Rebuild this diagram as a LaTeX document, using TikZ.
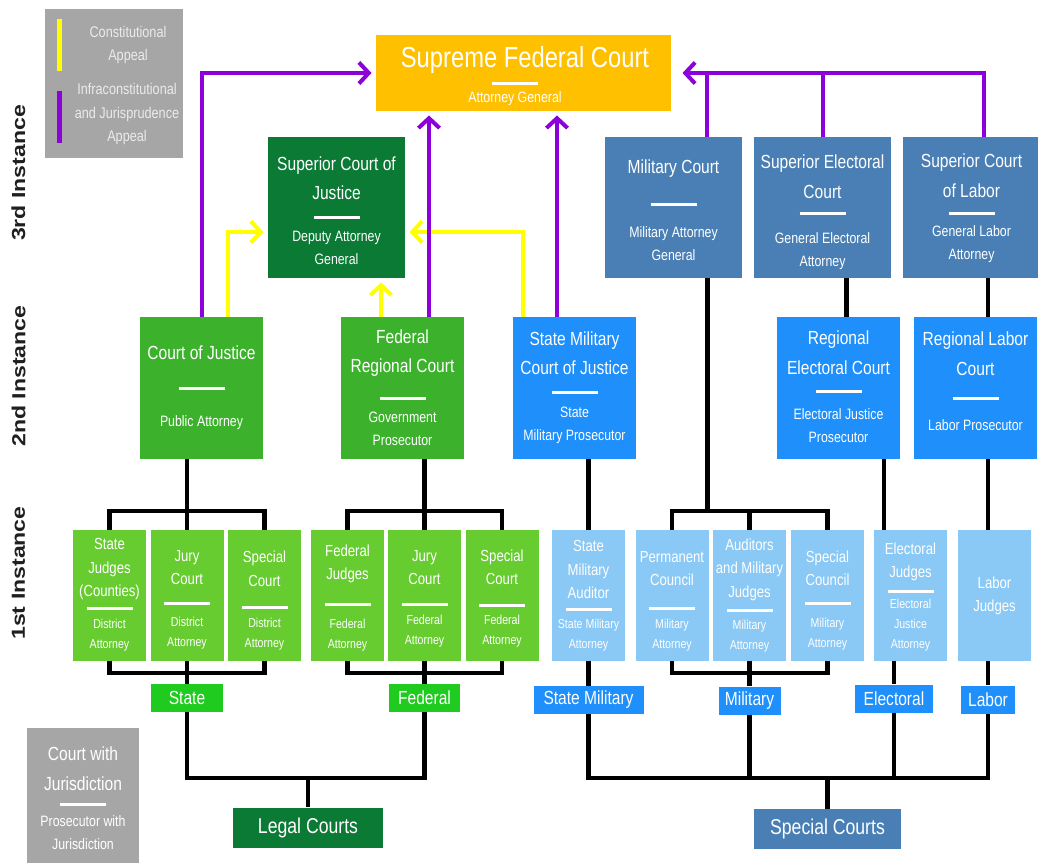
\documentclass[tikz,border=0pt]{standalone}
\usepackage{fontspec}
\usepackage{graphicx}
\setmainfont{Liberation Sans}[FakeStretch=0.82]
\newfontfamily\instfont{Liberation Sans}
\usetikzlibrary{arrows.meta, calc}

\definecolor{supyellow}{HTML}{FFC000}
\definecolor{dgreen}{HTML}{0B7A35}
\definecolor{mgreen}{HTML}{3CB22C}
\definecolor{lgreen}{HTML}{67CC30}
\definecolor{tgreen}{HTML}{1ECB1E}
\definecolor{steel}{HTML}{4A7FB5}
\definecolor{dblue}{HTML}{1E8FFB}
\definecolor{lblue}{HTML}{8AC8F5}
\definecolor{keygray}{HTML}{A6A6A6}
\definecolor{appealviolet}{HTML}{8C00D9}
\definecolor{appealyellow}{HTML}{FFFF00}

\newlength{\unitpx}
\setlength{\unitpx}{0.025cm}

\tikzset{
  court/.style={fill=#1, inner sep=0pt, minimum width=137\unitpx, minimum height=141\unitpx},
  region/.style={fill=#1, inner sep=0pt, minimum width=123\unitpx, minimum height=142\unitpx},
  local/.style={fill=#1, inner sep=0pt, minimum width=73\unitpx, minimum height=131\unitpx},
  tag/.style={fill=#1, text=white, inner sep=0pt, minimum height=28\unitpx, font=\fontsize{13.5}{16}\selectfont},
  branch/.style={fill=#1, text=white, inner sep=0pt, minimum width=150\unitpx, minimum height=40\unitpx, font=\fontsize{15.3}{18}\selectfont},
  ttl/.style={text=white, align=center, inner sep=0pt, font=\fontsize{13.5}{21}\selectfont},
  sub/.style={text=white, align=center, inner sep=0pt, font=\fontsize{10.7}{16.4}\selectfont},
  lttl/.style={text=white, align=center, inner sep=0pt, font=\fontsize{11.4}{16.7}\selectfont},
  lsub/.style={text=white, align=center, inner sep=0pt, font=\fontsize{9.2}{14.2}\selectfont},
  keytxt/.style={text=white!92!black, align=center, inner sep=0pt, font=\fontsize{11}{16.6}\selectfont},
  instlabel/.style={rotate=90, text=black!88, inner sep=0pt, font=\instfont\bfseries\fontsize{16.4}{18}\selectfont},
  sepline/.style={white, line width=3\unitpx},
  conn/.style={black, line width=4.5\unitpx},
  purpline/.style={appealviolet, line width=4\unitpx},
  purp/.style={purpline, -{Straight Barb[length=7pt,width=15pt]}, shorten >=3pt},
  yel/.style={appealyellow, line width=4\unitpx, -{Straight Barb[length=7pt,width=15pt]}, shorten >=3pt}
}

\begin{document}
\begin{tikzpicture}[x=0.025cm, y=-0.025cm]
    \useasboundingbox (0,0) rectangle (1038,862);
    \fill[white] (0,0) rectangle (1038,862);

    % Instance labels
    \node[instlabel] (inst3) at (18.5,173) {\scalebox{1}[0.82]{3rd Instance}};
    \node[instlabel] (inst2) at (18.5,376) {\scalebox{1}[0.82]{2nd Instance}};
    \node[instlabel] (inst1) at (18.5,573) {\scalebox{1}[0.82]{1st Instance}};

    % Appeal key
    \node[fill=keygray, inner sep=0pt, minimum width=138\unitpx, minimum height=149\unitpx] (appkey) at (114,83.5) {};
    \fill[appealyellow] (57,19) rectangle (62,71);
    \fill[appealviolet] (57,91) rectangle (62,143);
    \node[keytxt] (appkey-c) at (128,45) {Constitutional\\Appeal};
    \node[keytxt] (appkey-i) at (127,114) {Infraconstitutional\\and Jurisprudence\\Appeal};

    % Supreme court
    \node[fill=supyellow, inner sep=0pt, minimum width=295\unitpx, minimum height=76\unitpx] (sfc) at (523.5,73) {};
    \node[text=white, inner sep=0pt, font=\fontsize{20.6}{24}\selectfont] (sfc-head) at (525,60) {Supreme Federal Court};
    \draw[sepline] (492,83) -- (538,83);
    \node[sub] (sfc-foot) at (515,98.5) {Attorney General};

    % 3rd instance
    \foreach \nm/\xx/\col/\head/\hy/\ly/\foot/\fy in {
      scj/336.5/dgreen/{Superior Court of\\Justice}/178/217/{Deputy Attorney\\General}/248,
      mc/673.5/steel/{Military Court}/169/204/{Military Attorney\\General}/244,
      sec/822.5/steel/{Superior Electoral\\Court}/176.5/213/{General Electoral\\Attorney}/251.5,
      scl/971.5/steel/{Superior Court\\of Labor}/175.5/213/{General Labor\\Attorney}/244}
    {
      \node[court=\col] (\nm) at (\xx,207.5) {};
      \node[ttl] (\nm-head) at (\xx,\hy) {\head};
      \draw[sepline] (\xx-23,\ly) -- (\xx+23,\ly);
      \node[sub] (\nm-foot) at (\xx,\fy) {\foot};
    }

    % 2nd instance
    \foreach \nm/\xx/\col/\head/\hy/\ly/\foot/\fy in {
      cj/201.5/mgreen/{Court of Justice}/353/388/{Public Attorney}/423,
      frc/402.5/mgreen/{Federal\\Regional Court}/353/398/{Government\\Prosecutor}/428.5,
      smc/574.5/dblue/{State Military\\Court of Justice}/353/392/{State\\Military Prosecutor}/425.5,
      rec/838.5/dblue/{Regional\\Electoral Court}/352.5/391/{Electoral Justice\\Prosecutor}/425.5,
      rlc/975.5/dblue/{Regional Labor\\Court}/353.5/398/{Labor Prosecutor}/425}
    {
      \node[region=\col] (\nm) at (\xx,388) {};
      \node[ttl] (\nm-head) at (\xx,\hy) {\head};
      \draw[sepline] (\xx-23,\ly) -- (\xx+23,\ly);
      \node[sub] (\nm-foot) at (\xx,\fy) {\foot};
    }

    % 1st instance
    \foreach \nm/\xx/\col/\head/\hy/\ly/\foot/\fy in {
      sj/109.5/lgreen/{State\\Judges\\(Counties)}/569.5/608/{District\\Attorney}/635,
      jcs/187/lgreen/{Jury\\Court}/567.5/603/{District\\Attorney}/633,
      scs/264.5/lgreen/{Special\\Court}/569/607/{District\\Attorney}/634,
      fj/347.5/lgreen/{Federal\\Judges}/564/604/{Federal\\Attorney}/635,
      jcf/424.5/lgreen/{Jury\\Court}/567.5/604/{Federal\\Attorney}/631.5,
      scf/502/lgreen/{Special\\Court}/567.5/605/{Federal\\Attorney}/631,
      sma/588.5/lblue/{State\\Military\\Auditor}/569.5/609/{State Military\\Attorney}/635,
      pc/672/lblue/{Permanent\\Council}/568.5/608/{Military\\Attorney}/635,
      amj/749.5/lblue/{Auditors\\and Military\\Judges}/569.5/610/{Military\\Attorney}/636,
      spc/827.5/lblue/{Special\\Council}/568.5/603/{Military\\Attorney}/634,
      ej/910.5/lblue/{Electoral\\Judges}/562/591/{Electoral\\Justice\\Attorney}/625}
    {
      \node[local=\col] (\nm) at (\xx,595.5) {};
      \node[lttl] (\nm-head) at (\xx,\hy) {\head};
      \draw[sepline] (\xx-23,\ly) -- (\xx+23,\ly);
      \node[lsub] (\nm-foot) at (\xx,\fy) {\foot};
    }
    \node[local=lblue] (lj) at (994.5,595.5) {};
    \node[lttl] (lj-head) at (994.5,596) {Labor\\Judges};

    % Jurisdiction tags
    \node[tag=tgreen, minimum width=72\unitpx] (stlab) at (jcs |- 0,698) {State};
    \node[tag=tgreen, minimum width=71\unitpx] (fdlab) at (jcf |- 0,698) {Federal};
    \node[tag=dblue, minimum width=110\unitpx] (smlab) at (sma |- 0,700) {State Military};
    \node[tag=dblue, minimum width=62\unitpx] (mlab) at (amj |- 0,700.5) {Military};
    \node[tag=dblue, minimum width=78\unitpx] (elab) at (894,698.5) {Electoral};
    \node[tag=dblue, minimum width=54\unitpx] (llab) at (988,699.5) {Labor};

    % Court groups
    \node[branch=dgreen] (lc) at (308,827.5) {Legal Courts};
    \node[branch=steel, minimum width=147\unitpx] (spcourts) at (827.5,829) {Special Courts};

    % Court key
    \node[fill=keygray, inner sep=0pt, minimum width=112\unitpx, minimum height=140\unitpx] (ctkey) at (83,798) {};
    \node[ttl] (ctkey-head) at (83,768.5) {Court with\\Jurisdiction};
    \draw[sepline] (60,804) -- (106,804);
    \node[sub] (ctkey-foot) at (83,833) {Prosecutor with\\Jurisdiction};

    % Bar levels
    \coordinate (upbar) at (0,511);
    \coordinate (lowbar) at (0,673);
    \coordinate (basebar) at (0,778);

    % Legal courts tree
    \draw[conn] (jcs.north |- cj.south) -- (jcs.north);
    \draw[conn] (sj.north) |- (scs.north |- upbar) -- (scs.north);
    \draw[conn] (sj.south) |- (scs.south |- lowbar) -- (scs.south);
    \draw[conn] (jcs.south) -- (stlab.north);
    \draw[conn] (jcf.north |- frc.south) -- (jcf.north);
    \draw[conn] (fj.north) |- (scf.north |- upbar) -- (scf.north);
    \draw[conn] (fj.south) |- (scf.south |- lowbar) -- (scf.south);
    \draw[conn] (jcf.south) -- (fdlab.north);
    \draw[conn] (stlab.south) |- (fdlab.south |- basebar) -- (fdlab.south);
    \draw[conn] (lc.north) -- (lc.north |- basebar);

    % Special courts tree
    \coordinate (mcout) at ($(mc.south)+(34,0)$);
    \coordinate (secout) at ($(sec.south)+(24,0)$);
    \coordinate (recout) at ($(rec.south)+(45.5,0)$);
    \draw[conn] (sma.north |- smc.south) -- (sma.north);
    \draw[conn] (sma.south) -- (smlab.north);
    \draw[conn] (mcout) -- (mcout |- upbar);
    \draw[conn] (pc.north) |- (spc.north |- upbar) -- (spc.north);
    \draw[conn] (amj.north) -- (amj.north |- upbar);
    \draw[conn] (pc.south) |- (spc.south |- lowbar) -- (spc.south);
    \draw[conn] (amj.south) -- (mlab.north);
    \draw[conn] (secout) -- (secout |- rec.north);
    \draw[conn] (recout) -- (recout |- ej.north);
    \draw[conn] (elab.north |- ej.south) -- (elab.north);
    \draw[conn] (llab.north |- scl.south) -- (llab.north |- rlc.north);
    \draw[conn] (llab.north |- rlc.south) -- (llab.north |- lj.north);
    \draw[conn] (llab.north |- lj.south) -- (llab.north);
    \draw[conn] (smlab.south) |- (llab.south |- basebar) -- (llab.south);
    \draw[conn] (mlab.south) -- (mlab.south |- basebar);
    \draw[conn] (elab.south) -- (elab.south |- basebar);
    \draw[conn] (spcourts.north) -- (spcourts.north |- basebar);

    % Constitutional appeals
    \coordinate (cjyel) at ($(cj.north)+(26.5,0)$);
    \coordinate (frcyel) at ($(frc.north)+(-21.5,0)$);
    \coordinate (smcyel) at ($(smc.north)+(-51.5,0)$);
    \draw[yel] (cjyel) |- ($(scj.west)+(0,24.5)$);
    \draw[yel] (frcyel) -- (frcyel |- scj.south);
    \draw[yel] (smcyel) |- ($(scj.east)+(0,24.5)$);

    % Infraconstitutional appeals
    \coordinate (frcup) at ($(frc.north)+(26.5,0)$);
    \coordinate (smcup) at ($(smc.north)+(-17.5,0)$);
    \coordinate (mcup) at ($(mc.north)+(33.5,0)$);
    \coordinate (sclup) at ($(scl.north)+(12.5,0)$);
    \draw[purp] (cj.north) |- (sfc.west);
    \draw[purp] (frcup) -- (frcup |- sfc.south);
    \draw[purp] (smcup) -- (smcup |- sfc.south);
    \draw[purpline] (mcup) -- (mcup |- sfc.east);
    \draw[purpline] (sec.north) -- (sec.north |- sfc.east);
    \draw[purp, shorten >=8pt] (sclup) |- (sfc.east);
\end{tikzpicture}
\end{document}
